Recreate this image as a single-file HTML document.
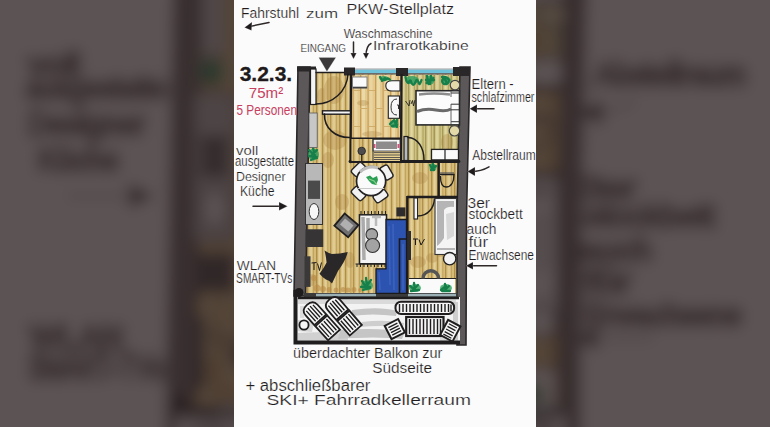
<!DOCTYPE html>
<html><head><meta charset="utf-8">
<style>
html,body{margin:0;padding:0;width:770px;height:427px;overflow:hidden;background:#5d5455;}
svg{display:block;}
text{font-family:"Liberation Sans",sans-serif;}
</style></head>
<body>
<svg width="770" height="427" viewBox="0 0 770 427">
<defs>
<filter id="bl" x="-20%" y="-20%" width="140%" height="140%"><feGaussianBlur stdDeviation="7"/></filter>
<pattern id="wood" patternUnits="userSpaceOnUse" width="23" height="80">
<rect width="23" height="80" fill="#d6bb76"/>
<rect x="0" width="1.2" height="80" fill="#ad8e4b"/>
<rect x="2.5" width="2.2" height="80" fill="#e2ce96"/>
<rect x="5.4" width="0.9" height="80" fill="#bea05c"/>
<rect x="8" width="1.3" height="80" fill="#b09150"/>
<rect x="10.5" width="2.6" height="80" fill="#e0cb92"/>
<rect x="14" width="1" height="80" fill="#c0a262"/>
<rect x="17" width="1.4" height="80" fill="#ae8f4c"/>
<rect x="19.5" width="2.2" height="80" fill="#e4d09a"/>
</pattern>
<pattern id="wood3" patternUnits="userSpaceOnUse" width="17" height="60">
<rect width="17" height="60" fill="#cfc282"/>
<rect x="0" width="1.3" height="60" fill="#a59a5a"/>
<rect x="2.5" width="2.2" height="60" fill="#e0d7a2"/>
<rect x="6" width="1" height="60" fill="#b3a865"/>
<rect x="8.5" width="1.5" height="60" fill="#a49858"/>
<rect x="11" width="2.5" height="60" fill="#dbd29a"/>
<rect x="14.5" width="1.1" height="60" fill="#b0a463"/>
</pattern>
<pattern id="wood2" patternUnits="userSpaceOnUse" width="15" height="36">
<rect width="15" height="36" fill="#e4c98e"/>
<rect x="2" width="3" height="36" fill="#ecd9a8"/>
<rect x="9.5" width="3" height="36" fill="#ead5a0"/>
<rect x="0" width="1.2" height="36" fill="#c79d58"/>
<rect x="7.5" width="1.2" height="36" fill="#c79d58"/>
<rect x="0" y="0" width="7.5" height="1" fill="#d1ad6c"/>
<rect x="7.5" y="18" width="7.5" height="1" fill="#d1ad6c"/>
</pattern>
<g id="pg">
<rect x="234" y="0" width="302" height="427" fill="#fbfbfb"/>
<!-- floor -->
<rect x="304" y="72" width="156" height="224" fill="url(#wood)"/>
<rect x="352" y="75" width="49" height="63" fill="url(#wood2)"/>
<rect x="403" y="75" width="55" height="86" fill="url(#wood3)"/>
<g fill="#a8803f" opacity="0.3">
<ellipse cx="334" cy="90" rx="10" ry="14"/>
<ellipse cx="322" cy="96" rx="5" ry="8"/>
<ellipse cx="335" cy="140" rx="12" ry="10"/>
<ellipse cx="328" cy="160" rx="6" ry="8"/>
<ellipse cx="342" cy="202" rx="7" ry="8"/>

<ellipse cx="312" cy="280" rx="5" ry="6"/>
<ellipse cx="418" cy="262" rx="8" ry="6"/>
<ellipse cx="432" cy="258" rx="6" ry="5"/>
<ellipse cx="440" cy="252" rx="6" ry="5"/>
<ellipse cx="447" cy="142" rx="6" ry="8"/>
<ellipse cx="372" cy="134" rx="10" ry="3"/>
<ellipse cx="363" cy="103" rx="6" ry="3"/>
<ellipse cx="420" cy="178" rx="8" ry="6"/>
<ellipse cx="350" cy="260" rx="5" ry="8"/>
</g>
<g fill="#b98a45" opacity="0.6">
<circle cx="317" cy="288" r="3.5"/><circle cx="323" cy="289" r="3"/><circle cx="329" cy="289.5" r="2.5"/><circle cx="336" cy="290" r="2.5"/><circle cx="343" cy="289.5" r="2.5"/><circle cx="348" cy="290" r="2.5"/><circle cx="354" cy="289.5" r="2.5"/><circle cx="360" cy="290" r="2"/><circle cx="314" cy="278" r="3"/>
</g>
<!-- outer walls -->
<path d="M298,67 L310,67 L305.5,296 L294,296 Z" fill="#5c5859" stroke="#2a2728" stroke-width="1.6"/>
<path d="M460,67 L470,67 L466.5,215 L466,345 L457,345 L457,215 Z" fill="#5c5859" stroke="#2a2728" stroke-width="1.6"/>
<rect x="297" y="66.5" width="19" height="5" fill="#2a2728"/>
<rect x="344" y="67.5" width="11" height="8" fill="#2a2728"/>
<rect x="396" y="68" width="12" height="8" fill="#2a2728"/>
<rect x="453" y="67" width="17" height="9" fill="#2a2728"/>
<rect x="355" y="69.5" width="41" height="3.5" fill="#6ec2da"/>
<rect x="408" y="69.5" width="45" height="3.5" fill="#6ec2da"/>
<path d="M355,69 L396,69 M408,69 L453,69" stroke="#888" stroke-width="0.8"/>
<rect x="355" y="73" width="41" height="1.6" fill="#6b6b6b"/>
<rect x="408" y="73" width="45" height="1.6" fill="#6b6b6b"/>
<circle cx="299" cy="292.5" r="4.5" fill="#1e1c1d"/>
<!-- bottom window band -->
<rect x="304" y="293" width="154" height="4" fill="#3a3a3a"/>
<rect x="316" y="293.8" width="60" height="2.6" fill="#9ab0b4"/>
<rect x="408" y="293.8" width="48" height="2.6" fill="#9ab0b4"/>
<g stroke="#1f1d1e" fill="none" stroke-linecap="round">
<!-- entrance door -->
<rect x="310.5" y="69" width="5.5" height="35.5" fill="#f4f4f4" stroke-width="1.2"/>
<path d="M316,104 C332,104 347,92 348,74" stroke-width="1.5"/>
<path d="M316,72.5 L344,72.5" stroke-width="1.3"/>
<!-- wall entrance/bath -->
<path d="M351,75 L350.5,162" stroke-width="2.4"/>
<!-- closet top frame -->
<rect x="322.5" y="110.8" width="28" height="3.4" fill="#f4f4f4" stroke-width="1.4"/>
<path d="M324.5,114 C324,128 335,138 350.5,137.5" stroke-width="1.6"/>
<!-- bath horizontal -->
<path d="M351,138.3 L401,138.3" stroke-width="1.8"/>
<path d="M350,161.5 L459,161.5" stroke-width="2.8"/>
<path d="M401.5,75 L401,162" stroke-width="2.4"/>
<!-- bedroom door -->
<rect x="404" y="136.5" width="4" height="24" fill="#b9b9b9" stroke-width="1.2"/>
<path d="M408,137.5 C418,138 424,148 424,160" stroke-width="1.5"/>
</g>
<!-- bathroom 1 fixtures -->
<rect x="352.5" y="77" width="14.5" height="11" fill="#fafafa" stroke="#777" stroke-width="0.9"/>
<path d="M353,87.5 L367,87.5" stroke="#444" stroke-width="1.6"/>
<path d="M400,80.8 L392,80.8 Q385.5,81 385.8,86 Q386,91 392,91 L400,91Z" fill="#fafafa" stroke="#222" stroke-width="1.1"/>
<rect x="388.3" y="96" width="11.2" height="22.3" fill="#f7f7f7" stroke="#222" stroke-width="1.1"/>
<path d="M397,99 Q391,99 391,107 Q391,115 397,115 M397,105 L398.5,105 L398.5,109" fill="none" stroke="#333" stroke-width="1"/>
<rect x="351.5" y="139" width="21.5" height="22" fill="url(#wood)"/>
<circle cx="361.7" cy="151" r="3.8" fill="#4e4c4d" stroke="#222" stroke-width="0.8"/>
<path d="M361.7,154 L361.7,161" stroke="#222" stroke-width="1.1"/>
<rect x="373" y="139.5" width="27" height="21.5" fill="#e7cf8f"/>
<rect x="373" y="139.5" width="27" height="11.5" fill="#f7f7f7" stroke="#333" stroke-width="0.8"/>
<rect x="376" y="141.5" width="21" height="7.5" fill="#8d8b8c"/>
<rect x="373.5" y="144" width="2" height="4" fill="#d8507a"/>
<rect x="397.5" y="144" width="2" height="4" fill="#d8507a"/>
<path d="M374,152.6 L400,152.6 M374,155 L400,155 M374,157.5 L400,157.5 M374,159.5 L400,159.5" stroke="#4a4a4a" stroke-width="0.9"/>
<path d="M373,139 L373,161" stroke="#333" stroke-width="1"/>
<!-- bedroom -->
<rect x="416" y="90.7" width="43.5" height="34.2" fill="#fcfcfc" stroke="#2a2a2a" stroke-width="1.6"/>
<path d="M419,94.5 Q434,92.5 450,94.5" stroke="#8c8c8c" stroke-width="2.6" fill="none"/>
<path d="M417,111.5 Q426,108 436,110 Q446,112 451,109" stroke="#6a6a6a" stroke-width="3" fill="none"/>
<path d="M451,93 L459,93 M451,104.2 L459,104.2 M451,109.8 L459,109.8 M451,121.7 L459,121.7" stroke="#333" stroke-width="1"/>
<path d="M451,91 L451,97 M451,104 L451,124" stroke="#555" stroke-width="0.9"/>
<circle cx="455" cy="85.1" r="4.8" fill="#e3d9a8" stroke="#444" stroke-width="1.2"/>
<circle cx="454.5" cy="130.8" r="5.2" fill="#e3d9a8" stroke="#444" stroke-width="1.2"/>
<rect x="431.5" y="149.4" width="27" height="10.5" fill="#fafafa" stroke="#222" stroke-width="1.3"/>
<path d="M445,149.5 L445,160" stroke="#222" stroke-width="1.2"/>
<path d="M405.5,101 L409,106 L410,100 M411,104 L412.5,100.5 L413.5,106 L415,100" fill="none" stroke="#222" stroke-width="0.9"/>
<!-- plants -->
<g fill="#35a062" opacity="0.85">
<ellipse cx="412" cy="80" rx="7" ry="4"/>
<ellipse cx="430" cy="80" rx="4.5" ry="4.5"/>
<ellipse cx="446" cy="80.5" rx="5" ry="4"/>
<ellipse cx="384" cy="78.5" rx="4.5" ry="2.5"/>
<ellipse cx="394" cy="124" rx="4.5" ry="4"/>
<ellipse cx="313.5" cy="154.5" rx="5.5" ry="6"/>
<ellipse cx="367" cy="285.5" rx="6" ry="5"/>
<ellipse cx="433" cy="167.5" rx="3.5" ry="3.5"/>
</g>
<g fill="none" stroke="#17804a" stroke-width="2.3" stroke-linecap="round" stroke-linejoin="round">
<path d="M405.5,77 q1,6 3,6 q2,-5 3,0 q2,4 4,-1 q1,-4 3,0 q1,5 3,-2"/>
<path d="M427,76 l1.5,8 M431,76 l-1,8 M426,80 l8,0 M426.5,83 l7,-5"/>
<path d="M442,77 q5,-1 7,3 q-1,5 -5,4 q-3,-2 -1,-5 q3,0 3,3"/>
<path d="M380,77 q2,4 5,3 q3,-3 5,0 M382,81 l3,-3"/>
<path d="M390,124 l4,-4 M392,126 l5,-1 M394,120 l3,7 M397,120 l-1,6"/>
<path d="M309,150 l5,5 M313,148 l2,8 M317,150 l-6,6 M309,156 l8,2 M311,160 l6,-3"/>
<path d="M362,281 l4,6 M366,278 l1,8 M371,280 l-5,7 M361,287 l9,0 M363,290 l7,-2"/>
<path d="M430,165 l3,5 M433,164 l1,6 M436,166 l-5,4"/>
</g>
<!-- kitchen -->
<rect x="309" y="113" width="8.2" height="34.5" fill="#c7c7c7" stroke="#5a5a5a" stroke-width="0.8"/>
<rect x="305.5" y="163.5" width="17" height="61" fill="#b8b8b8" stroke="#333" stroke-width="1"/>
<rect x="308" y="180.6" width="12" height="18.3" fill="#4a4a4a"/>
<ellipse cx="314" cy="211.5" rx="4.8" ry="8" fill="#f7f7f7" stroke="#333" stroke-width="1"/>
<rect x="305.5" y="229.3" width="17.7" height="17.7" fill="#363434"/>
<rect x="304.5" y="256.3" width="6" height="30.6" fill="#3a3838"/>
<!-- dining table -->
<g stroke="#262324" stroke-width="1.4" fill="#f2f2f2">
<rect x="-7" y="-4.5" width="14" height="9" rx="2.5" transform="translate(358.5,169.5) rotate(-45)"/>
<rect x="-7" y="-4.5" width="14" height="9" rx="2.5" transform="translate(386.5,172.5) rotate(60)"/>
<rect x="-7" y="-4.5" width="14" height="9" rx="2.5" transform="translate(358.5,193.5) rotate(45)"/>
<rect x="-7" y="-4.5" width="14" height="9" rx="2.5" transform="translate(380.5,196) rotate(-35)"/>
<circle cx="371.1" cy="181.1" r="14.6" fill="#fafafa" stroke-width="1.7"/>
</g>
<path d="M360,172 Q368,165 378,168" stroke="#bdbdbd" stroke-width="3" fill="none"/>
<path d="M358,188.5 L384,188.5" stroke="#c9c9c9" stroke-width="1"/>
<path d="M366,177 l4,-1.5 l3,2.5 l4,-2 l1,4 l-2,5 l-4,-1 l-3,-3z" fill="#2c9f55"/>
<path d="M369,179 l5,2 l3,4" stroke="#8ad08a" stroke-width="1.2" fill="none"/>
<!-- bathroom 2 / storage -->
<g stroke="#1f1d1e" fill="none">
<path d="M438.7,161 L438.7,197" stroke-width="2.4"/>
<path d="M407,197 L458,197" stroke-width="2.6"/>
<path d="M407.3,196 L407.3,294" stroke-width="2.4"/>
<rect x="414" y="198" width="3.6" height="21" fill="#f4f4f4" stroke-width="1.1"/>
<path d="M417.6,216 C428,216 434,208 434.5,198.5" stroke-width="1.5"/>
<path d="M440,174.5 L454,174.5 C454,182 451,187 446,187 C442,187 440.5,183 440.5,176" stroke-width="1.4"/>
<path d="M440,173 L454,173" stroke-width="1.2" stroke="#555"/>
</g>
<rect x="396.4" y="207.4" width="9" height="9" fill="#2e2c2c"/>
<rect x="435" y="198.5" width="21.5" height="56" fill="#f4f4f4" stroke="#333" stroke-width="1.1"/>
<path d="M437,201 L454,201 L454,207 Q447,206 444,210 L444,238 Q440,244 437,246Z" fill="#9a9a9a" opacity="0.7"/>
<path d="M446,214 L454,212 L454,236 L447,240Z" fill="#cfcfcf" opacity="0.8"/>
<path d="M437,249 L455,249" stroke="#777" stroke-width="1"/>
<rect x="406" y="231" width="5" height="29" fill="#2e2c2c"/>
<circle cx="449.7" cy="258.7" r="6.2" fill="#f2f2f2" stroke="#222" stroke-width="1.4"/>
<!-- bedroom 2 bottom -->
<rect x="409" y="278.2" width="46" height="14.8" fill="#fafafa"/>
<path d="M409,278.5 L456,278.5" stroke="#222" stroke-width="1"/>
<path d="M423,278.5 A7.8,7.8 0 0 1 438.6,278.5" fill="none" stroke="#555" stroke-width="3.4"/>
<!-- sofa table -->
<rect x="359.5" y="214.8" width="27" height="49" fill="#f3f3f3" stroke="#222" stroke-width="1.5"/>
<path d="M363,217 L364,260 M368,218 L368,232" stroke="#9a9a9a" stroke-width="3.5" opacity="0.8"/>
<path d="M372,217 L381,217 M376,216 L376,226" stroke="#bbb" stroke-width="2.5"/>
<path d="M361,214 l0,-3 M364.5,214 l0,-3 M368,214 l0,-3 M371.5,214 l0,-3 M375,214 l0,-3 M378.5,214 l0,-3 M382,214 l0,-3 M385.5,214 l0,-3 M357,264 l0,3 M360.5,264 l0,3 M364,264 l0,3 M367.5,264 l0,3 M371,264 l0,3 M374.5,264 l0,3 M378,264 l0,3 M381.5,264 l0,3 M385,264 l0,3" stroke="#222" stroke-width="1"/>
<path d="M355.5,264 L387,264" stroke="#222" stroke-width="1"/>
<circle cx="371.8" cy="234.4" r="5.8" fill="#a3a3a3" stroke="#333" stroke-width="1.1"/>
<circle cx="372.6" cy="245.5" r="7" fill="#a3a3a3" stroke="#333" stroke-width="1.1"/>
<!-- armchair -->
<g transform="translate(346.4,225.4) rotate(40)">
<rect x="-9" y="-8" width="18" height="16" fill="#707070" stroke="#1f1d1e" stroke-width="1.8"/>
<rect x="-5.5" y="-4.5" width="11" height="8" fill="#b0b0b0"/>
</g>
<!-- blue sofa -->
<path d="M386,219.5 L406.5,219.5 L406.5,293.4 L376,293.4 L376,268.8 L386,268.8Z" fill="#2c53b0" stroke="#1a1a1a" stroke-width="1.3"/>
<path d="M389,226 L390,285 M393,224 L394,290 M379,272 L380,290 M403,244 L403,290" stroke="#4a72c8" stroke-width="1.6" opacity="0.5"/>
<path d="M399.5,293 L399.5,239 L406.5,239" stroke="#1a1a1a" stroke-width="1.6" fill="none"/>
<!-- black rug -->
<path d="M324.5,250.5 Q328,253 332,254 Q340,254 347.7,252 Q346,260 338,271 Q335,277 332,283.6 Q329,280 325.9,279.4 Q322,277 319.5,273.8 Q324,268 326.6,262.5 Q326,256 324.5,250.5Z" fill="#292727"/>
<!-- TV labels -->
<g stroke="#1a1a1a" stroke-width="1" fill="none">
<path d="M311.5,263 l5,-0.5 M314,263 l0,7 M317.5,263.5 l2,7 l2,-8"/>
<path d="M413,239 l5,0 M415.5,239 l0,6 M419,239.5 l2,5.5 l3.5,-6"/>
</g>
<g fill="#3aa865" opacity="0.85"><ellipse cx="415" cy="288" rx="6" ry="4"/><ellipse cx="446" cy="288" rx="6" ry="4"/></g>
<g fill="none" stroke="#17804a" stroke-width="2.3" stroke-linecap="round">
<path d="M410,286 l5,4 M414,283 l1,7 M418,285 l-5,5 M411,291 l8,-1"/>
<path d="M441,290 l5,-4 M445,284 l1,6 M449,286 l-5,5 M442,291 l8,0"/>
</g>
<!-- balcony -->
<rect x="295" y="297" width="165" height="44.5" fill="#f3f3f3"/>
<g fill="#bdbdbd" opacity="0.85">
<path d="M298,299.5 L456,299.5 L456,304 L298,304Z" opacity="0.55"/>
<path d="M352,310 Q380,306 397,311 L396,316 Q372,313 352,316Z"/>
<path d="M362,322 Q385,319 404,323 L403,327 Q378,325 360,327Z" opacity="0.8"/>
<path d="M340,330 Q380,327 405,332 L402,339 Q376,336 338,339Z"/>
<path d="M298,320 L314,322 L312,332 L298,331Z" opacity="0.6"/>
<path d="M298,333 Q330,331 348,335 L348,340.5 L298,340.5Z" opacity="0.75"/>
<path d="M440,336 L458,333 L458,341 L440,341Z" opacity="0.6"/>
<path d="M453,302 L458,302 L458,340 L453,340Z" opacity="0.8"/>
<path d="M300,306 L304,306 L304,318 L300,318Z" opacity="0.5"/>
</g>
<path d="M295.5,290 L295.5,342.5 L460,342.5" stroke="#1f1d1e" stroke-width="4" fill="none"/>
<path d="M298,298 L459,298" stroke="#1f1d1e" stroke-width="2.4"/>
<g stroke="#1f1d1e" stroke-width="1.8" fill="#f6f6f6">
<!-- loungers -->
<g transform="translate(321,320.5) rotate(48)">
<path d="M-1,-8 L-14,-8 Q-21,-8 -21,0 Q-21,8 -14,8 L-1,8Z"/>
<rect x="0.5" y="-8" width="19" height="16"/>
<path d="M-17,-4.5 L-3,-4.5 M-18,-1.5 L-3,-1.5 M-18,1.5 L-3,1.5 M-17,4.5 L-3,4.5 M2.5,-5 L17.5,-5 M2.5,-1.7 L17.5,-1.7 M2.5,1.7 L17.5,1.7 M2.5,5 L17.5,5" stroke-width="1.4"/>
</g>
<g transform="translate(343,315.5) rotate(49)">
<path d="M-1,-8 L-14,-8 Q-21,-8 -21,0 Q-21,8 -14,8 L-1,8Z"/>
<rect x="0.5" y="-8" width="19" height="16"/>
<path d="M-17,-4.5 L-3,-4.5 M-18,-1.5 L-3,-1.5 M-18,1.5 L-3,1.5 M-17,4.5 L-3,4.5 M2.5,-5 L17.5,-5 M2.5,-1.7 L17.5,-1.7 M2.5,1.7 L17.5,1.7 M2.5,5 L17.5,5" stroke-width="1.4"/>
</g>
<circle cx="304" cy="325" r="4.6"/>
<!-- bench -->
<rect x="395.5" y="301.7" width="58.6" height="12.2" rx="5.5" stroke-width="2"/>
<path d="M399.5,304 L399.5,312 M403,304 L403,312 M406.5,304 L406.5,312 M410,304 L410,312 M413.5,304 L413.5,312 M417,304 L417,312 M420.5,304 L420.5,312 M424,304 L424,312 M427.5,304 L427.5,312 M431,304 L431,312 M434.5,304 L434.5,312 M438,304 L438,312 M441.5,304 L441.5,312 M445,304 L445,312 M448.5,304 L448.5,312 M451,304.5 L451,311.5" stroke-width="1.4"/>
<!-- table -->
<rect x="406.2" y="317" width="37.3" height="19" stroke-width="2.2"/>
<path d="M409.5,319 L409.5,334 M413,319 L413,334 M416.5,319 L416.5,334 M420,319 L420,334 M423.5,319 L423.5,334 M427,319 L427,334 M430.5,319 L430.5,334 M434,319 L434,334 M437.5,319 L437.5,334 M440.5,319 L440.5,334" stroke-width="1.4"/>
<!-- stools -->
<g transform="translate(394.8,329.1) rotate(-27)">
<rect x="-7.5" y="-7.5" width="15" height="15" stroke-width="2"/>
<path d="M-5,-4.2 L5,-4.2 M-5,-1.4 L5,-1.4 M-5,1.4 L5,1.4 M-5,4.2 L5,4.2" stroke-width="1.3"/>
</g>
<g transform="translate(450.3,330.7) rotate(28)">
<rect x="-7" y="-8.5" width="14" height="17" stroke-width="2"/>
<path d="M-4.5,-5.5 L4.5,-5.5 M-4.5,-2.5 L4.5,-2.5 M-4.5,0.5 L4.5,0.5 M-4.5,3.5 L4.5,3.5 M-4.5,6.2 L4.5,6.2" stroke-width="1.3"/>
</g>
</g>
</g>
<g id="txt">
<g fill="#1f1b1c">
<text x="241" y="17.5" font-size="14.5" textLength="58" lengthAdjust="spacingAndGlyphs">Fahrstuhl</text>
<text x="306" y="17.5" font-size="13" textLength="32" lengthAdjust="spacingAndGlyphs">zum</text>
<text x="346.5" y="13.6" font-size="14.5" textLength="107.5" lengthAdjust="spacingAndGlyphs">PKW-Stellplatz</text>
<text x="300.5" y="52.2" font-size="11.3" textLength="45.5" lengthAdjust="spacingAndGlyphs">EINGANG</text>
<text x="343.8" y="38" font-size="13" textLength="88.7" lengthAdjust="spacingAndGlyphs">Waschmaschine</text>
<text x="373" y="49.7" font-size="13.5" textLength="95.6" lengthAdjust="spacingAndGlyphs">Infrarotkabine</text>
<text x="239.7" y="81.2" font-size="20.4" font-weight="bold" stroke="#1e1a1b" stroke-width="0.3" textLength="52.5" lengthAdjust="spacingAndGlyphs">3.2.3.</text>
<text x="236" y="155.4" font-size="12.5" textLength="22.3" lengthAdjust="spacingAndGlyphs">voll</text>
<text x="235" y="166" font-size="14" textLength="59" lengthAdjust="spacingAndGlyphs">ausgestatte</text>
<text x="236" y="180.6" font-size="13.5" textLength="49.5" lengthAdjust="spacingAndGlyphs">Designer</text>
<text x="240" y="196" font-size="14" textLength="34.5" lengthAdjust="spacingAndGlyphs">Küche</text>
<text x="236.8" y="269.5" font-size="13.5" textLength="39.4" lengthAdjust="spacingAndGlyphs">WLAN</text>
<text x="236.1" y="282.9" font-size="15" textLength="56.3" lengthAdjust="spacingAndGlyphs">SMART-TVs</text>
<text x="471.5" y="89" font-size="14.5" textLength="42.2" lengthAdjust="spacingAndGlyphs">Eltern -</text>
<text x="471.5" y="101.5" font-size="14" textLength="62.9" lengthAdjust="spacingAndGlyphs">schlafzimmer</text>
<text x="472.2" y="160.3" font-size="14.5" textLength="63.6" lengthAdjust="spacingAndGlyphs">Abstellraum</text>
<text x="467.5" y="207.5" font-size="14" textLength="22.5" lengthAdjust="spacingAndGlyphs">3er</text>
<text x="468.4" y="219" font-size="14" textLength="54.3" lengthAdjust="spacingAndGlyphs">stockbett</text>
<text x="466.6" y="233.5" font-size="14" textLength="29.9" lengthAdjust="spacingAndGlyphs">auch</text>
<text x="468.4" y="246.5" font-size="14" textLength="19.6" lengthAdjust="spacingAndGlyphs">für</text>
<text x="468.4" y="260.2" font-size="14" textLength="65.6" lengthAdjust="spacingAndGlyphs">Erwachsene</text>
<text x="293" y="357.5" font-size="14.5" textLength="149.3" lengthAdjust="spacingAndGlyphs">überdachter Balkon zur</text>
<text x="372.2" y="373" font-size="14.5" textLength="59.8" lengthAdjust="spacingAndGlyphs">Südseite</text>
<text x="245.4" y="391" font-size="16" textLength="125" lengthAdjust="spacingAndGlyphs">+ abschließbarer</text>
<text x="266.5" y="405.2" font-size="15" textLength="204.5" lengthAdjust="spacingAndGlyphs">SKI+ Fahrradkellerraum</text>
</g>
<g fill="#c8405f" stroke="none">
<text x="248.8" y="98.4" font-size="15.5" textLength="34.4" lengthAdjust="spacingAndGlyphs">75m²</text>
<text x="236.5" y="114.6" font-size="14.5" textLength="60.5" lengthAdjust="spacingAndGlyphs">5 Personen</text>
</g>
<!-- arrows -->
<g stroke="#2e2829" stroke-width="1.5" fill="none" stroke-linecap="round">
<path d="M247,27 L269,22.5"/>
<path d="M253,206.2 L281,206.2"/>
<path d="M473,108.8 L494,108.8"/>
<path d="M489,166.8 Q481,171.5 471,171.5"/>
<path d="M470,265.8 L496.5,265.8"/>
<path d="M353.5,42 L353.5,56"/>
<path d="M371,43.5 Q366,46 366,56"/>
</g>
<g fill="#1f1b1c">
<path d="M244.5,27.5 L252,22 L251.5,30.5Z"/>
<path d="M287.5,206.2 L279,202 L279,210.4Z"/>
<path d="M469.6,108.8 L477,104.5 L477,113Z"/>
<path d="M467.5,171.5 L475,167 L475,176Z"/>
<path d="M466,265.8 L473,262 L473,269.6Z"/>
<path d="M353.5,59 L350.5,53 L356.5,53Z"/>
<path d="M366,59 L363,53 L369,53Z"/>
<path d="M318.7,57.5 L335.9,57.5 L326.9,71.4Z" fill="#3a3838"/>
</g>
</g>
</defs>
<g filter="url(#bl)"><rect x="-100" y="-100" width="970" height="627" fill="#fbfbfb"/><g transform="translate(385,213.5) scale(2.4) translate(-385,-213.5)"><use href="#pg"/><use href="#txt" stroke="#2e2829" stroke-width="2.6" stroke-opacity="0.45" stroke-linejoin="round"/></g></g>
<rect width="770" height="427" fill="#302425" fill-opacity="0.78"/>
<use href="#pg"/>
<use href="#txt" stroke="#fbfbfb" stroke-width="0.2"/>
</svg>
</body></html>
